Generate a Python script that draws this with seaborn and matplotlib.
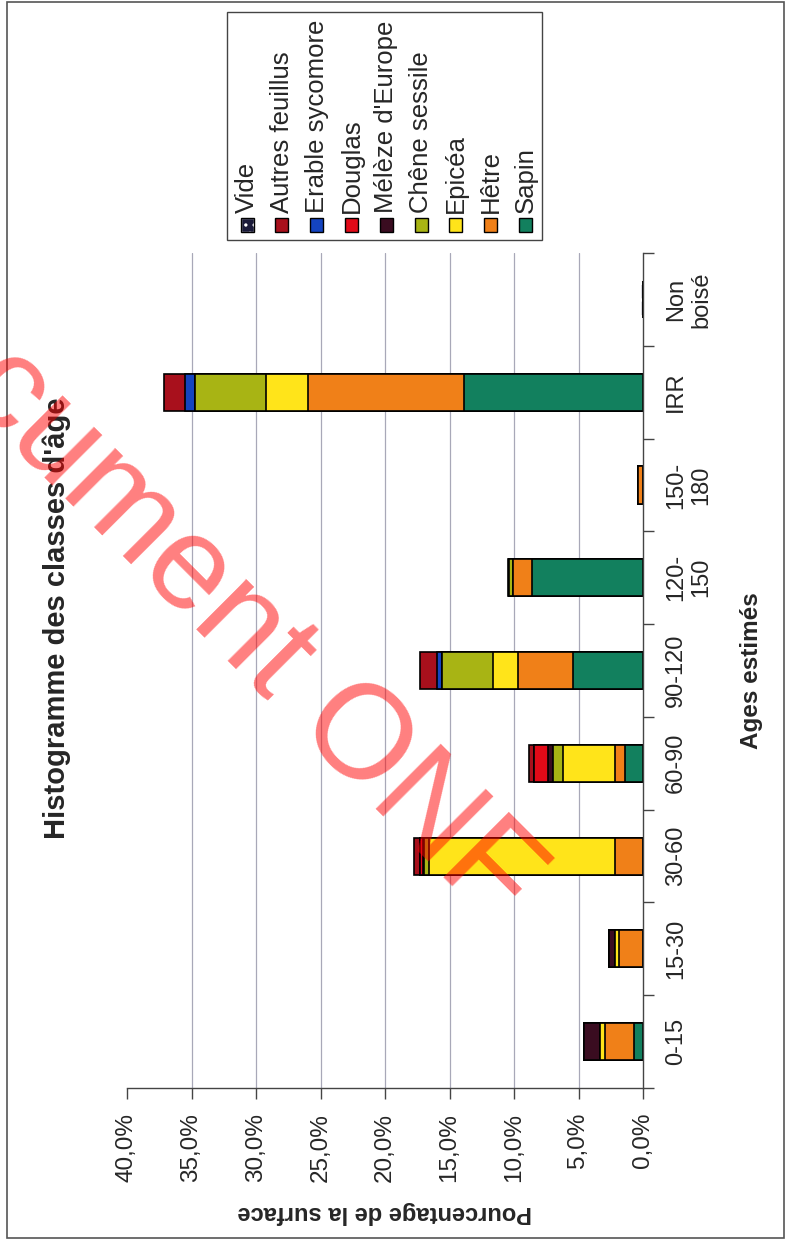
import numpy as np
import pandas as pd
import seaborn as sns
import matplotlib
matplotlib.use("Agg")
import matplotlib.pyplot as plt
from matplotlib.patches import Rectangle

# age classes, bottom to top of the page
categories = ["0-15", "15-30", "30-60", "60-90", "90-120", "120-\n150", "150-\n180", "IRR", "Non\nboisé"]

# percentage of surface per species (stacking order from the axis outward)
sapin = [0.7, 0, 0, 1.4, 5.4, 8.6, 0, 13.9, 0]
hetre = [2.25, 1.85, 2.2, 0.8, 4.3, 1.5, 0.4, 12.1, 0]
epicea = [0.4, 0.3, 14.4, 4.0, 1.9, 0, 0, 3.2, 0]
chene = [0, 0, 0.35, 0.75, 4.0, 0.25, 0, 5.5, 0]
meleze = [1.25, 0.45, 0.1, 0.4, 0, 0, 0, 0, 0]
douglas = [0, 0, 0.2, 1.1, 0, 0, 0, 0, 0]
erable = [0, 0, 0, 0, 0.4, 0, 0, 0.8, 0]
autres = [0, 0, 0.5, 0.4, 1.3, 0.1, 0, 1.6, 0]
vide = [0, 0, 0, 0, 0, 0, 0, 0, 0.15]

species = ["Sapin", "Hêtre", "Epicéa", "Chêne sessile", "Mélèze d'Europe", "Douglas",
           "Erable sycomore", "Autres feuillus", "Vide"]
values = [sapin, hetre, epicea, chene, meleze, douglas, erable, autres, vide]
colors = ["#12805e", "#f08018", "#ffe41a", "#a8b414", "#3a0c20", "#e20a18",
          "#1444c0", "#a8101c", "#1a1a3a"]

xticks = [0, 5, 10, 15, 20, 25, 30, 35, 40]
xtick_labels = ["0,0%", "5,0%", "10,0%", "15,0%", "20,0%", "25,0%", "30,0%", "35,0%", "40,0%"]

W, H = 785, 1241


def fx(x):
    return x / W


def fy(y):
    return 1 - y / H


sns.set_theme(style="white")
plt.rcParams["font.family"] = ["Liberation Sans", "DejaVu Sans"]
plt.rcParams["hatch.linewidth"] = 1.2

fig = plt.figure(figsize=(7.85, 12.41), dpi=100)
ax = fig.add_axes([fx(127), fy(1088), fx(643) - fx(127), fy(253) - fy(1088)])

order = categories[::-1]

# cumulative totals, drawn from the outermost layer inward
cums = np.cumsum(np.array(values), axis=0)
for i in range(len(species) - 1, -1, -1):
    df = pd.DataFrame({"age": categories, "pct": cums[i]})
    n_before = len(ax.patches)
    sns.barplot(data=df, x="pct", y="age", order=order, orient="h", color=colors[i],
                saturation=1, width=0.4, edgecolor="black", linewidth=1.2,
                errorbar=None, ax=ax)
    if species[i] == "Vide":
        for p in ax.patches[n_before:]:
            p.set_hatch("..")
            p.set_edgecolor("white")

ax.set_xlim(40, 0)
ax.set_xticks(xticks)
ax.set_xticklabels(xtick_labels, rotation=90, fontsize=17.5)
ax.tick_params(axis="x", direction="out", length=8, width=1, pad=10, bottom=True, color="#444")
ax.grid(axis="x", color="#a8a8b8", lw=0.9)
ax.grid(axis="y", visible=False)
for gl, t in zip(ax.xaxis.get_gridlines(), xticks):
    if t in (0, 40):
        gl.set_visible(False)
ax.set_axisbelow(True)

ax.yaxis.tick_right()
ax.yaxis.set_label_position("right")
ax.set_yticks(np.arange(-0.5, 9, 1))
ax.set_yticklabels([])
ax.set_yticks(np.arange(9), minor=True)
ax.set_yticklabels(order, minor=True)
ax.set_ylim(8.5, -0.5)
ax.tick_params(axis="y", which="major", direction="out", length=8, width=1, right=True, color="#444")
ax.tick_params(axis="y", which="minor", length=0, pad=16, labelsize=17)
for lbl in ax.get_yticklabels(minor=True):
    lbl.set_rotation(90)
    lbl.set_ha("left")
    lbl.set_va("center")
    lbl.set_multialignment("center")

for s in ["left", "top"]:
    ax.spines[s].set_visible(False)
for s in ["bottom", "right"]:
    ax.spines[s].set_color("#444")
    ax.spines[s].set_linewidth(1)

ax.set_xlabel("Pourcentage de la surface", rotation=180, fontsize=17, fontweight="bold", labelpad=14)
ax.set_ylabel("Ages estimés", fontsize=17.5, fontweight="bold", labelpad=20)

fig.text(fx(57), fy(618), "Histogramme des classes d'âge", rotation=90, ha="center", va="center",
         fontsize=21, fontweight="bold")

# legend, drawn by hand because everything is rotated
fig.add_artist(Rectangle((fx(227), fy(240)), fx(542) - fx(227), fy(12) - fy(240),
                         transform=fig.transFigure, fill=False, ec="#444", lw=1))
legend_order = list(range(len(species) - 1, -1, -1))
for k, i in enumerate(legend_order):
    x = 247 + 34.8 * k
    sq = Rectangle((fx(x - 6.5), fy(231.5)), 13 / W, 13 / H, transform=fig.transFigure,
                   fc=colors[i], ec="black", lw=1)
    if species[i] == "Vide":
        sq.set_hatch("..")
        sq.set_edgecolor("white")
        fig.add_artist(sq)
        sq = Rectangle((fx(x - 6.5), fy(231.5)), 13 / W, 13 / H, transform=fig.transFigure,
                       fill=False, ec="black", lw=1)
    fig.add_artist(sq)
    fig.text(fx(x), fy(213), species[i], rotation=90, ha="center", va="bottom", fontsize=18.5)

# outer frame
fig.add_artist(Rectangle((fx(7), fy(1238)), fx(784) - fx(7), fy(2) - fy(1238),
                         transform=fig.transFigure, fill=False, ec="#555", lw=1.2))

# watermark
fig.text(fx(190), fy(575), "Document ONF", rotation=-45, rotation_mode="anchor",
         ha="center", va="center", fontsize=96, color="red", alpha=0.5, zorder=20)

fig.savefig("out.png", dpi=100)
